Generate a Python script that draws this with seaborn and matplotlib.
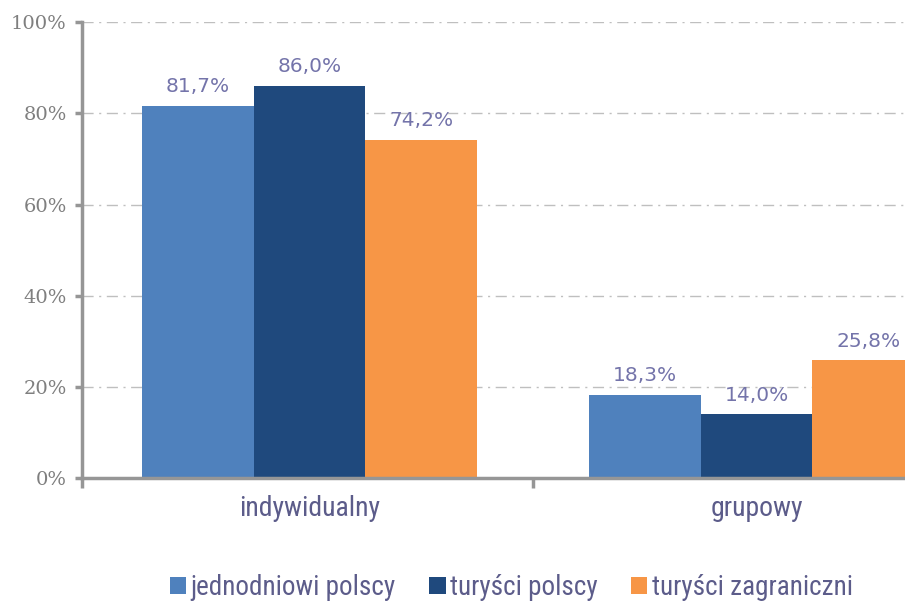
import pandas as pd
import matplotlib
matplotlib.use("Agg")
import matplotlib.pyplot as plt
from matplotlib import font_manager
import seaborn as sns

categories = ["indywidualny", "grupowy"]
series = ["jednodniowi polscy", "turyści polscy", "turyści zagraniczni"]
jednodniowi = [81.7, 18.3]
turysci_pl = [86.0, 14.0]
turysci_zagr = [74.2, 25.8]
yticks = [0, 20, 40, 60, 80, 100]
colors = ["#4F81BD", "#1F497D", "#F79646"]


def main():
    df = pd.DataFrame({
        "kategoria": categories * 3,
        "grupa": [s for s in series for _ in categories],
        "wartosc": jednodniowi + turysci_pl + turysci_zagr,
    })

    names = {f.name for f in font_manager.fontManager.ttflist}
    narrow = "DejaVu Sans"
    for cand in ["Liberation Sans Narrow", "DejaVu Sans Condensed", "Roboto Condensed", "Open Sans Condensed"]:
        if cand in names:
            narrow = cand
            break

    sns.set_style("white")
    fig = plt.figure(figsize=(9.05, 6.06), dpi=100)
    ax = fig.add_axes([0.0906, 0.211, 0.9924, 0.7525])

    sns.barplot(data=df, x="kategoria", y="wartosc", hue="grupa", order=categories,
                hue_order=series, palette=colors, width=0.75, saturation=1,
                edgecolor="none", linewidth=0, ax=ax, legend=True)

    x0 = -0.509
    ax.set_xlim(x0, x0 + 2)
    ax.set_ylim(0, 100)
    ax.set_xlabel("")
    ax.set_ylabel("")

    # etykiety wartości
    for cont in ax.containers:
        labels = [f"{v:.1f}%".replace(".", ",") for v in cont.datavalues]
        ax.bar_label(cont, labels=labels, padding=7, fontsize=14.5,
                     color="#7474AA", family="DejaVu Sans")

    ax.set_yticks(yticks)
    ax.set_yticklabels([f"{t}%" for t in yticks], family="DejaVu Serif",
                       fontsize=14, color="#7F7F7F")
    ax.tick_params(axis="y", length=5, width=2.5, color="#969696", pad=6, left=True)
    ax.set_xticks([0, 1])
    ax.set_xticklabels(categories, family=[narrow, "DejaVu Sans"], stretch="condensed",
                       fontsize=20, color="#5C5C8A")
    ax.tick_params(axis="x", length=0, pad=12)
    ax.set_xticks([x0, 0.5, 1.5], minor=True)
    ax.tick_params(axis="x", which="minor", length=7, width=2.5, color="#969696", bottom=True)

    ax.yaxis.grid(True, linestyle=(0, (8, 4, 1.5, 4)), color="#BFBFBF", linewidth=1)
    ax.set_axisbelow(True)

    for side in ["top", "right"]:
        ax.spines[side].set_visible(False)
    for side in ["left", "bottom"]:
        ax.spines[side].set_color("#969696")
        ax.spines[side].set_linewidth(2.5)

    handles, labels = ax.get_legend_handles_labels()
    ax.get_legend().remove()
    fig.legend(handles, labels, loc="center", bbox_to_anchor=(0.565, 0.03), ncol=3,
               frameon=False, handlelength=0.6, handleheight=0.6, handletextpad=0.15,
               columnspacing=1.25,
               prop={"family": [narrow, "DejaVu Sans"], "stretch": "condensed", "size": 19.5},
               labelcolor="#5C5C8A")

    fig.savefig("out.png", dpi=100)


if __name__ == "__main__":
    main()
